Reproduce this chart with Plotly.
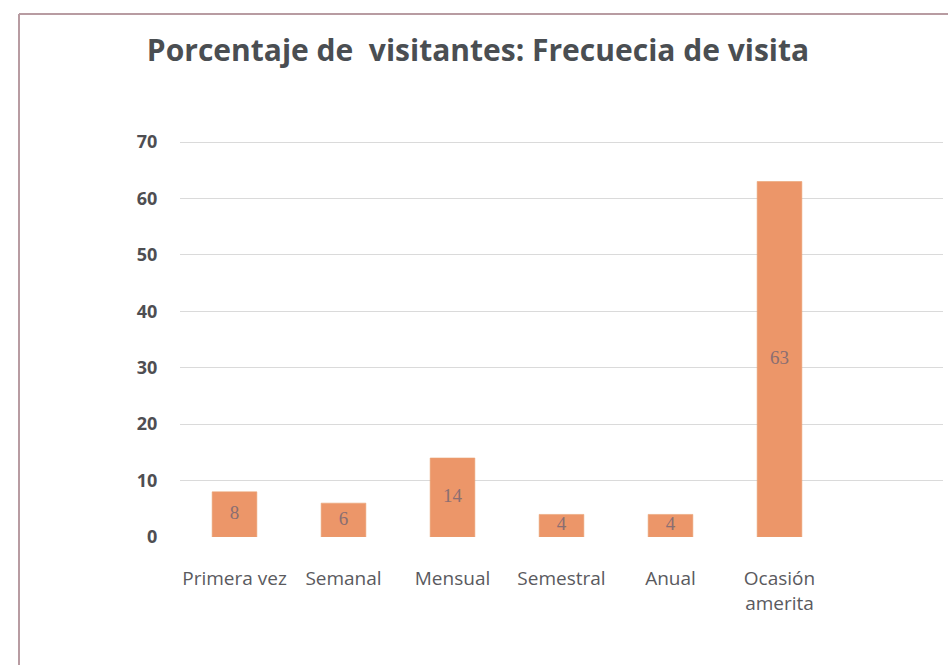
import plotly.graph_objects as go

categories = ["Primera vez", "Semanal", "Mensual", "Semestral", "Anual", "Ocasión<br>amerita"]
values = [8, 6, 14, 4, 4, 63]
y_ticks = [0, 10, 20, 30, 40, 50, 60, 70]

W, H = 948, 665
L, R, T, B = 180, 5, 137, 128
pw, ph = W - L - R, H - T - B
Y_MAX = 70 * ph / 395.0

def px(x):
    return (x - L) / pw

def py(y):
    return (H - B - y) / ph

xs = list(range(len(categories)))

fig = go.Figure()
fig.add_trace(go.Bar(
    x=xs,
    y=values,
    width=0.41,
    marker=dict(color="#EC9669", line=dict(color="#E9A273", width=0.6)),
    showlegend=False,
    hoverinfo="skip",
))
fig.add_trace(go.Scatter(
    x=xs,
    y=[v / 2 for v in values],
    mode="text",
    text=[str(v) for v in values],
    textposition="middle center",
    textfont=dict(family="Liberation Serif, DejaVu Serif, serif", size=19, color="#8A6E72"),
    showlegend=False,
    hoverinfo="skip",
))

fig.update_layout(
    width=W, height=H,
    margin=dict(l=L, r=R, t=T, b=B, pad=0),
    paper_bgcolor="white", plot_bgcolor="white",
    title=dict(text="<b>Porcentaje de  visitantes: Frecuecia de visita</b>",
               x=px(478), xanchor="center", xref="paper",
               y=1 - 50 / H, yanchor="middle",
               font=dict(family="Open Sans, sans-serif", size=30, color="#4A4E52")),
    font=dict(family="Open Sans, sans-serif"),
)
fig.update_xaxes(
    range=[-0.5, 6.5],
    tickmode="array", tickvals=xs, ticktext=categories,
    tickfont=dict(size=19, color="#5A5A5E"),
    showgrid=False, zeroline=False, showline=False, ticks="",
    ticklabelstandoff=28,
)
fig.update_yaxes(
    range=[0, Y_MAX],
    tickmode="array", tickvals=y_ticks, ticktext=["<b>%d</b>" % t for t in y_ticks],
    tickfont=dict(size=18, color="#4E4E52", family="Open Sans, sans-serif"),
    showgrid=True, gridcolor="#DADADA", gridwidth=1,
    zeroline=False, showline=False, ticks="outside", ticklen=18, tickcolor="white",
)

# chart frame
fig.add_shape(type="line", xref="paper", yref="paper",
              x0=px(19), x1=px(948), y0=py(14), y1=py(14),
              line=dict(color="#B89CA2", width=2))
fig.add_shape(type="line", xref="paper", yref="paper",
              x0=px(19), x1=px(19), y0=py(14), y1=py(665),
              line=dict(color="#B89CA2", width=2))

fig.write_html("out.html", config={"displayModeBar": False},
               post_script="document.body.style.margin='0';document.body.style.overflow='hidden';")
